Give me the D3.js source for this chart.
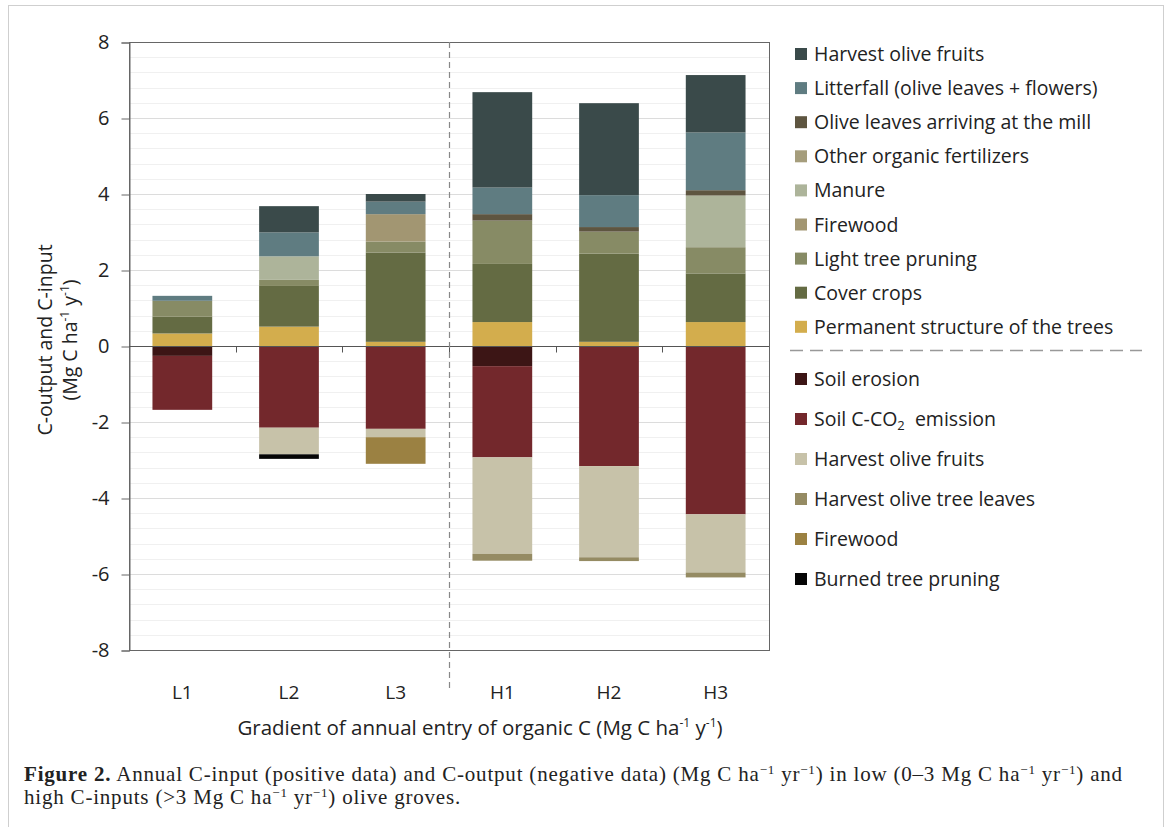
<!DOCTYPE html>
<html>
<head>
<meta charset="utf-8">
<script src="https://cdn.jsdelivr.net/npm/d3@7/dist/d3.min.js"></script>
<style>
  body { margin: 0; background: #fff; }
  text { font-family: "Open Sans", sans-serif; fill: #222; }
  .caption text { font-family: "Liberation Serif", serif; letter-spacing: 0.8px; }
</style>
</head>
<body>
<div id="chart"></div>
<script>
// groves, low and high C-input
var categories = ["L1", "L2", "L3", "H1", "H2", "H3"];

// C-input (positive), Mg C ha-1 y-1, stacked bottom-up
var permanentStructure = [0.33, 0.51, 0.11, 0.63, 0.11, 0.63];
var coverCrops         = [0.44, 1.07, 2.35, 1.53, 2.32, 1.28];
var lightPruning       = [0.42, 0.16, 0.29, 1.14, 0.58, 0.69];
var firewoodIn         = [0, 0, 0.72, 0, 0, 0];
var manure             = [0, 0.62, 0, 0, 0, 1.36];
var otherFertilizers   = [0, 0, 0, 0, 0, 0];
var leavesMill         = [0, 0, 0, 0.17, 0.12, 0.14];
var litterfall         = [0.13, 0.63, 0.33, 0.70, 0.84, 1.52];
var harvestIn          = [0, 0.69, 0.20, 2.51, 2.42, 1.51];

// C-output (negative), stacked from zero downwards
var soilErosion  = [-0.26, 0, 0, -0.53, 0, 0];
var soilCO2      = [-1.42, -2.15, -2.18, -2.40, -3.16, -4.43];
var harvestOut   = [0, -0.70, -0.22, -2.54, -2.40, -1.53];
var leavesOut    = [0, 0, 0, -0.18, -0.10, -0.13];
var firewoodOut  = [0, 0, -0.70, 0, 0, 0];
var burnedPruning = [0, -0.12, 0, 0, 0, 0];

var yTicks = [-8, -6, -4, -2, 0, 2, 4, 6, 8];

var inputSeries = [
  { key: "perm",   name: "Permanent structure of the trees", color: "#d3ad4d", values: permanentStructure },
  { key: "cover",  name: "Cover crops",                      color: "#646b43", values: coverCrops },
  { key: "light",  name: "Light tree pruning",               color: "#878b65", values: lightPruning },
  { key: "fwIn",   name: "Firewood",                         color: "#a29672", values: firewoodIn },
  { key: "manure", name: "Manure",                           color: "#adb49a", values: manure },
  { key: "other",  name: "Other organic fertilizers",        color: "#a59d7c", values: otherFertilizers },
  { key: "mill",   name: "Olive leaves arriving at the mill", color: "#5e5540", values: leavesMill },
  { key: "litter", name: "Litterfall (olive leaves + flowers)", color: "#5f7c81", values: litterfall },
  { key: "hvIn",   name: "Harvest olive fruits",             color: "#3a4a4a", values: harvestIn }
];
var outputSeries = [
  { key: "eros",   name: "Soil erosion",              color: "#3c1515", values: soilErosion },
  { key: "co2",    name: "Soil C-CO2 emission",       color: "#73282c", values: soilCO2 },
  { key: "hvOut",  name: "Harvest olive fruits",      color: "#c7c2a9", values: harvestOut },
  { key: "lvOut",  name: "Harvest olive tree leaves", color: "#958b63", values: leavesOut },
  { key: "fwOut",  name: "Firewood",                  color: "#9b8142", values: firewoodOut },
  { key: "burn",   name: "Burned tree pruning",       color: "#050505", values: burnedPruning }
];

var allSeries = inputSeries.concat(outputSeries);
var colorOf = {};
allSeries.forEach(function (s) { colorOf[s.key] = s.color; });

var table = categories.map(function (c, i) {
  var row = { cat: c };
  allSeries.forEach(function (s) { row[s.key] = s.values[i]; });
  return row;
});

var W = 1170, H = 827;
var plot = { left: 129, right: 769, top: 42, bottom: 650 };

var svg = d3.select("#chart").append("svg")
  .attr("width", W).attr("height", H);

// outer frame
svg.append("rect")
  .attr("x", 8.5).attr("y", 5.5).attr("width", 1155).attr("height", 840)
  .attr("fill", "none").attr("stroke", "#cfcfcf");

var xScale = d3.scaleBand().domain(categories)
  .range([plot.left, plot.right]).paddingInner(0.44).paddingOuter(0.22);
var yScale = d3.scaleLinear().domain([-8, 8]).range([plot.bottom, plot.top]);

// gridlines: minor every 0.4, major every 2
var minor = d3.range(-8, 8.001, 0.4);
svg.append("g").selectAll("line").data(minor).join("line")
  .attr("x1", plot.left).attr("x2", plot.right)
  .attr("y1", function (d) { return Math.round(yScale(d)) + 0.5; })
  .attr("y2", function (d) { return Math.round(yScale(d)) + 0.5; })
  .attr("stroke", "#f0f0f0");
svg.append("g").selectAll("line").data(yTicks).join("line")
  .attr("x1", plot.left).attr("x2", plot.right)
  .attr("y1", function (d) { return Math.round(yScale(d)) + 0.5; })
  .attr("y2", function (d) { return Math.round(yScale(d)) + 0.5; })
  .attr("stroke", "#dcdcdc");

// stacked bars
var stack = d3.stack()
  .keys(allSeries.map(function (s) { return s.key; }))
  .offset(d3.stackOffsetDiverging);
var layers = stack(table);

svg.append("g").selectAll("g").data(layers).join("g")
  .attr("fill", function (d) { return colorOf[d.key]; })
  .selectAll("rect").data(function (d) { return d; }).join("rect")
  .attr("x", function (d) { return xScale(d.data.cat); })
  .attr("width", xScale.bandwidth())
  .attr("y", function (d) { return yScale(Math.max(d[0], d[1])); })
  .attr("height", function (d) { return Math.abs(yScale(d[0]) - yScale(d[1])); });

// plot frame
svg.append("rect")
  .attr("x", plot.left + 0.5).attr("y", plot.top + 0.5)
  .attr("width", plot.right - plot.left).attr("height", plot.bottom - plot.top)
  .attr("fill", "none").attr("stroke", "#666");

// y axis
var yAxis = d3.axisLeft(yScale).tickValues(yTicks).tickSize(8).tickPadding(12)
  .tickFormat(function (d) { return String(d); });
var gy = svg.append("g").attr("transform", "translate(" + (plot.left + 0.5) + ",0.5)").call(yAxis);
gy.select(".domain").attr("stroke", "#666");
gy.selectAll(".tick line").attr("stroke", "#666");
gy.selectAll(".tick text").style("font-size", "20px").attr("fill", "#222");

// zero line with category ticks
var y0 = Math.round(yScale(0)) + 0.5;
svg.append("line")
  .attr("x1", plot.left).attr("x2", plot.right)
  .attr("y1", y0).attr("y2", y0)
  .attr("stroke", "#555").attr("stroke-width", 1.2);
var bounds = categories.slice(1).map(function (c) {
  return xScale(c) - xScale.step() * xScale.paddingInner() / 2;
});
svg.append("g").selectAll("line").data(bounds).join("line")
  .attr("x1", function (d) { return Math.round(d) + 0.5; })
  .attr("x2", function (d) { return Math.round(d) + 0.5; })
  .attr("y1", y0).attr("y2", y0 + 6)
  .attr("stroke", "#555");

// divider between low and high groves
var xDiv = Math.round(bounds[2]) + 0.5;
svg.append("line")
  .attr("x1", xDiv).attr("x2", xDiv)
  .attr("y1", plot.top).attr("y2", 692)
  .attr("stroke", "#888").attr("stroke-width", 1.2)
  .attr("stroke-dasharray", "6,4");

// category labels
svg.append("g").selectAll("text").data(categories).join("text")
  .attr("x", function (d) { return xScale(d) + xScale.bandwidth() / 2; })
  .attr("y", 699)
  .attr("text-anchor", "middle")
  .style("font-size", "19px")
  .text(function (d) { return d; });

// axis titles
var xt = svg.append("text")
  .attr("x", 480).attr("y", 735)
  .attr("text-anchor", "middle")
  .style("font-size", "20.5px");
xt.append("tspan").text("Gradient of annual entry of organic C (Mg C ha");
xt.append("tspan").attr("dy", -8).style("font-size", "12px").text("-1");
xt.append("tspan").attr("dy", 8).text(" y");
xt.append("tspan").attr("dy", -8).style("font-size", "12px").text("-1");
xt.append("tspan").attr("dy", 8).text(")");

var yt = svg.append("g").attr("transform", "translate(52,340) rotate(-90)");
yt.append("text").attr("text-anchor", "middle").attr("y", 0)
  .style("font-size", "19.5px").text("C-output and C-input");
var yt2 = yt.append("text").attr("text-anchor", "middle").attr("y", 25)
  .style("font-size", "19.5px");
yt2.append("tspan").text("(Mg C ha");
yt2.append("tspan").attr("dy", -8).style("font-size", "12px").text("-1");
yt2.append("tspan").attr("dy", 8).text(" y");
yt2.append("tspan").attr("dy", -8).style("font-size", "12px").text("-1");
yt2.append("tspan").attr("dy", 8).text(")");

// legend
var legIn = inputSeries.slice().reverse();
var legend = svg.append("g");
var gi = legend.selectAll("g.in").data(legIn).join("g").attr("class", "in")
  .attr("transform", function (d, i) { return "translate(795," + (54 + i * 34.1) + ")"; });
gi.append("rect").attr("x", 0).attr("y", -6).attr("width", 12).attr("height", 12)
  .attr("fill", function (d) { return d.color; });
gi.append("text").attr("x", 19).attr("y", 7).style("font-size", "19.5px")
  .text(function (d) { return d.name; });

legend.append("line")
  .attr("x1", 790).attr("x2", 1142).attr("y1", 350.5).attr("y2", 350.5)
  .attr("stroke", "#999").attr("stroke-width", 1.5).attr("stroke-dasharray", "13,7");

var go = legend.selectAll("g.out").data(outputSeries).join("g").attr("class", "out")
  .attr("transform", function (d, i) { return "translate(795," + (379 + i * 40) + ")"; });
go.append("rect").attr("x", 0).attr("y", -6).attr("width", 12).attr("height", 12)
  .attr("fill", function (d) { return d.color; });
go.each(function (d) {
  var t = d3.select(this).append("text").attr("x", 19).attr("y", 7).style("font-size", "19.5px");
  if (d.key === "co2") {
    t.append("tspan").text("Soil C-CO");
    t.append("tspan").attr("dy", 4).style("font-size", "13px").text("2");
    t.append("tspan").attr("dy", -4).text("\u00a0 emission");
  } else {
    t.text(d.name);
  }
});

// caption
var cap = svg.append("g").attr("class", "caption");
var l1 = cap.append("text").attr("x", 24).attr("y", 781).style("font-size", "21px");
function sup(t, s) {
  t.append("tspan").attr("dy", -7).style("font-size", "13px").text(s);
}
l1.append("tspan").style("font-weight", "bold").text("Figure 2.");
l1.append("tspan").text(" Annual C-input (positive data) and C-output (negative data) (Mg C ha");
sup(l1, "\u22121");
l1.append("tspan").attr("dy", 7).text(" yr");
sup(l1, "\u22121");
l1.append("tspan").attr("dy", 7).text(") in low (0\u20133 Mg C ha");
sup(l1, "\u22121");
l1.append("tspan").attr("dy", 7).text(" yr");
sup(l1, "\u22121");
l1.append("tspan").attr("dy", 7).text(") and");

var l2 = cap.append("text").attr("x", 24).attr("y", 804).style("font-size", "21px");
l2.append("tspan").text("high C-inputs (>3 Mg C ha");
sup(l2, "\u22121");
l2.append("tspan").attr("dy", 7).text(" yr");
sup(l2, "\u22121");
l2.append("tspan").attr("dy", 7).text(") olive groves.");
</script>
</body>
</html>
